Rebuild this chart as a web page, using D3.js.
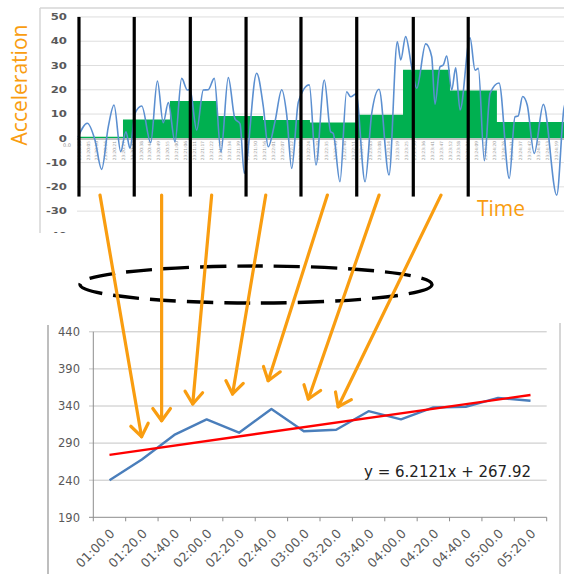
<!DOCTYPE html>
<html><head><meta charset="utf-8">
<script src="https://cdn.jsdelivr.net/npm/d3@7"></script>
<style>html,body{margin:0;padding:0;background:#fff;}svg{display:block;}</style>
</head><body>
<svg id="c" width="564" height="574"></svg>
<script>
// ---------------- top chart data (time in seconds, acceleration) ----------------
const accelT = [0,5.7,10.4,14.5,18.6,22.1,26.2,29.4,31.9,35,39.1,44.6,48.7,52.3,55.4,59.5,63.6,67.1,68.7,72.8,76.9,79.9,83.6,87.7,92.2,96.3,99.4,102,109.6,113.7,116.7,120.9,125,128,131.1,135.2,141.9,146,151.1,155,156.6,160.7,164.8,167.3,170.6,176.1,180.2,184.7,190.8,195.9,198,201,204.7,207.8,213.3,217,219,222.1,224.1,226.2,229.3,231.7,234.4,240.5,243.6,245.6,249.3,252.8,258.3,264.6,268.1,270,272.8,275.6,279.9,285.5,293.7,298.2,303];
const accelV = [0.4,6.2,-0.7,-12.8,4.8,13.7,-5.5,2.7,-4.1,10.3,13.3,-1.8,23.6,6.4,14.7,-1.4,24.7,19.9,20.2,3.4,19.9,20,24.7,-5.7,25,8,6,-14.4,26.8,13,-3.5,7,20,10,-12.4,15,22,-11,24,2.7,2,-17.9,19.2,17.1,18.3,-17.9,10.3,20.2,-15.1,39.8,32.3,41.9,29.5,20.6,38.9,33.6,14.1,29.5,30.2,33.9,19.9,29,11.7,41.4,28.1,28.8,-9.2,18.5,22.8,-16.5,8.9,9.2,17.2,13.7,-6.2,14,-23.4,12.6,20];
const stepEdges = [0,27.6,56.4,85.3,113.5,142.3,171.2,199.4,228.2,257,310];
const stepValues = [0.6,7.8,15.4,9.2,7.5,6.5,9.7,28.2,19.7,6.7];
const windowMarks = [0.6,34.5,68.9,103.1,136.8,171,205.7,239.4];
const windowTop = 50, windowBottom = -24;
const topTicks = [50,40,30,20,10,0,-10,-20,-30,-40];
const timeLabels = ["23:20:00","23:20:05","23:20:10","23:20:16","23:20:21","23:20:27","23:20:32","23:20:38","23:20:44","23:20:49","23:20:55","23:21:00","23:21:06","23:21:11","23:21:17","23:21:22","23:21:28","23:21:34","23:21:39","23:21:45","23:21:50","23:21:56","23:22:01","23:22:07","23:22:12","23:22:18","23:22:24","23:22:29","23:22:35","23:22:40","23:22:46","23:22:51","23:22:57","23:23:03","23:23:08","23:23:14","23:23:19","23:23:25","23:23:30","23:23:36","23:23:41","23:23:47","23:23:52","23:23:58","23:24:04","23:24:09","23:24:15","23:24:20","23:24:26","23:24:31","23:24:37","23:24:42","23:24:48","23:24:53","23:24:59"];

// ---------------- bottom chart data ----------------
const periods = ["01:00.0","01:20.0","01:40.0","02:00.0","02:20.0","02:40.0","03:00.0","03:20.0","03:40.0","04:00.0","04:20.0","04:40.0","05:00.0","05:20.0"];
const meanValues = [240,268,301,322,304,336,306,308,333,322,338,339,351,347];
const bottomTicks = [190,240,290,340,390,440];
const trendSlope = 6.2121, trendIntercept = 267.92;
const trendLabel = "y = 6.2121x + 267.92";

// ---------------- arrows (from top-chart time to bottom-chart point) ----------------
const arrowFromT = [13.5,51.3,82,115.2,153,184.7,222.7];
const arrowFromV = -23.4;
const arrowToIdx = [0.99,1.61,2.57,3.80,4.90,6.14,7.06];
const arrowToV = [298.6,320.2,342.7,356.2,374.1,349.4,339];

const svg = d3.select("#c");
const ORANGE = "#f99d10", LABEL = "#595959";

// ===== top chart =====
const xT = d3.scaleLinear().domain([0,300]).range([78,78+300*1.63]);
const yT = d3.scaleLinear().domain([-40,50]).range([235.4,16.95]);

svg.append("defs").append("clipPath").attr("id","topclip")
  .append("rect").attr("x",41).attr("y",9).attr("width",523).attr("height",224);

const topG = svg.append("g");
topG.append("line").attr("x1",40).attr("x2",40).attr("y1",8).attr("y2",233).attr("stroke","#d6d6d6").attr("stroke-width",1.5);
topG.append("line").attr("x1",40).attr("x2",564).attr("y1",8).attr("y2",8).attr("stroke","#d6d6d6").attr("stroke-width",1.5);

const tc = topG.append("g").attr("clip-path","url(#topclip)");
tc.selectAll("line.g").data(topTicks).join("line")
  .attr("x1",77).attr("x2",564).attr("y1",d=>yT(d)).attr("y2",d=>yT(d))
  .attr("stroke","#dedede").attr("stroke-width",1);

tc.selectAll("g.yl").data(topTicks).join("g")
  .attr("transform",d=>`translate(67,${yT(d)+3.2}) scale(1.3,1)`)
  .append("text").attr("text-anchor","end").attr("font-family","DejaVu Sans")
  .attr("font-size",9).attr("font-weight","bold").attr("fill",LABEL).text(d=>d);

// green step area
const stepPts = [];
stepValues.forEach((v,i)=>{stepPts.push([stepEdges[i],v]);stepPts.push([stepEdges[i+1],v]);});
const area = d3.area().x(d=>xT(d[0])).y0(yT(0)).y1(d=>yT(d[1]));
tc.append("path").datum(stepPts).attr("d",area).attr("fill","#00b050");

// axis line at 0
tc.append("line").attr("x1",77).attr("x2",564).attr("y1",yT(0)+0.8).attr("y2",yT(0)+0.8)
  .attr("stroke","#bfbfbf").attr("stroke-width",1.6);

// tiny time labels
const xLab = d3.scalePoint().domain(timeLabels).range([79.3,79.3+8.83*(timeLabels.length-1)]);
tc.selectAll("text.tl").data(timeLabels).join("text")
  .attr("transform",d=>`translate(${xLab(d)+1.5},141) rotate(-90)`)
  .attr("text-anchor","end").attr("font-family","DejaVu Sans").attr("font-size",4.3)
  .attr("fill","#9a9a9a").text(d=>d);
tc.append("text").attr("x",63).attr("y",147).attr("font-family","DejaVu Sans").attr("font-size",5)
  .attr("fill","#8a8a8a").text("0.0");

// blue accel line
const accel = accelT.map((t,i)=>[t,accelV[i]]);
tc.append("path").datum(accel)
  .attr("d",d3.line().x(d=>xT(d[0])).y(d=>yT(d[1])).curve(d3.curveMonotoneX))
  .attr("fill","none").attr("stroke","#5b8fd0").attr("stroke-width",1.6);

// black window lines
tc.selectAll("line.w").data(windowMarks).join("line")
  .attr("x1",d=>xT(d)).attr("x2",d=>xT(d)).attr("y1",yT(windowTop)).attr("y2",yT(windowBottom))
  .attr("stroke","#000").attr("stroke-width",3.2);

// axis titles
svg.append("text").attr("transform","translate(27,85) rotate(-90)").attr("text-anchor","middle")
  .attr("font-family","Open Sans").attr("font-size",21).attr("fill",ORANGE).text("Acceleration");
svg.append("text").attr("x",477).attr("y",216).attr("font-family","Open Sans").attr("font-size",21)
  .attr("fill",ORANGE).text("Time");

// ===== bottom chart =====
const xB = d3.scaleBand().domain(periods).range([93.3,546.7]).padding(0);
const xIdx = d3.scaleLinear().domain([0,periods.length-1])
  .range([xB(periods[0])+xB.bandwidth()/2, xB(periods[periods.length-1])+xB.bandwidth()/2]);
const yB = d3.scaleLinear().domain([190,440]).range([517.3,331.8]);

const bot = svg.append("g");
bot.append("line").attr("x1",48).attr("x2",48).attr("y1",325).attr("y2",574).attr("stroke","#a8a8a8").attr("stroke-width",1.5);
bot.append("line").attr("x1",560).attr("x2",560).attr("y1",323).attr("y2",574).attr("stroke","#c8c8c8").attr("stroke-width",1.5);

bot.selectAll("line.bg").data(bottomTicks).join("line")
  .attr("x1",89).attr("x2",546.7).attr("y1",d=>yB(d)).attr("y2",d=>yB(d))
  .attr("stroke",d=>d===190?"#8c8c8c":"#c4c4c4").attr("stroke-width",1);
bot.append("line").attr("x1",93.3).attr("x2",93.3).attr("y1",yB(440)).attr("y2",yB(190)).attr("stroke","#8c8c8c");
bot.selectAll("text.by").data(bottomTicks).join("text")
  .attr("x",80).attr("y",d=>yB(d)+4.3).attr("text-anchor","end").attr("font-family","DejaVu Sans")
  .attr("font-size",11.5).attr("fill",LABEL).text(d=>d);

const bounds = periods.map(p=>xB(p)).concat([xB(periods[periods.length-1])+xB.bandwidth()]);
bot.selectAll("line.bt").data(bounds).join("line")
  .attr("x1",d=>d).attr("x2",d=>d).attr("y1",yB(190)).attr("y2",yB(190)+4).attr("stroke","#8c8c8c");
bot.selectAll("text.bx").data(periods).join("text")
  .attr("transform",p=>`translate(${xB(p)+xB.bandwidth()/2+6},${yB(190)+17}) rotate(-45)`)
  .attr("text-anchor","end").attr("font-family","DejaVu Sans").attr("font-size",12.6)
  .attr("fill",LABEL).text(p=>p);

// blue mean line
bot.append("path").datum(meanValues)
  .attr("d",d3.line().x((d,i)=>xB(periods[i])+xB.bandwidth()/2).y(d=>yB(d)))
  .attr("fill","none").attr("stroke","#4a7ebb").attr("stroke-width",2.4).attr("stroke-linejoin","round");

// trend line
const tr = [1, periods.length].map(x=>({i:x-1, v:trendSlope*x+trendIntercept}));
bot.append("path").datum(tr)
  .attr("d",d3.line().x(d=>xIdx(d.i)).y(d=>yB(d.v)))
  .attr("stroke","#ff0000").attr("stroke-width",2.4).attr("fill","none");

bot.append("text").attr("x",531).attr("y",476.5).attr("text-anchor","end")
  .attr("font-family","DejaVu Sans").attr("font-size",15).attr("fill","#222").text(trendLabel);

// ===== dashed ellipse =====
svg.append("ellipse").attr("cx",256).attr("cy",284.5).attr("rx",176).attr("ry",18.5)
  .attr("fill","none").attr("stroke","#000").attr("stroke-width",3.4).attr("stroke-dasharray","26 11");

// ===== arrows =====
const arrows = arrowFromT.map((t,i)=>({x0:xT(t),y0:yT(arrowFromV),x1:xIdx(arrowToIdx[i]),y1:yB(arrowToV[i])}));
const ag = svg.append("g").attr("stroke",ORANGE).attr("stroke-width",3.2).attr("fill","none")
  .attr("stroke-linecap","round").attr("stroke-linejoin","round");
arrows.forEach(a=>{
  ag.append("line").attr("x1",a.x0).attr("y1",a.y0).attr("x2",a.x1).attr("y2",a.y1);
  const ang = Math.atan2(a.y1-a.y0,a.x1-a.x0), L=15, th=36*Math.PI/180;
  const p1=[a.x1-L*Math.cos(ang-th),a.y1-L*Math.sin(ang-th)];
  const p2=[a.x1-L*Math.cos(ang+th),a.y1-L*Math.sin(ang+th)];
  ag.append("path").attr("d",`M${p1[0]},${p1[1]}L${a.x1},${a.y1}L${p2[0]},${p2[1]}`);
});
</script>
</body></html>
